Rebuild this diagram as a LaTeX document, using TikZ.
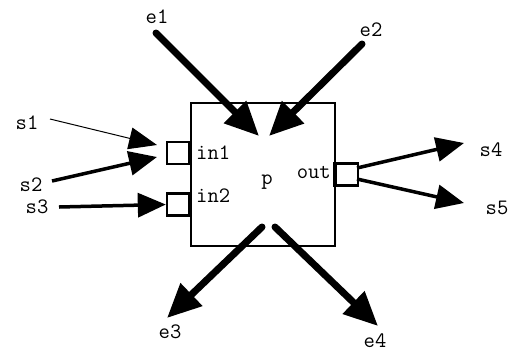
\documentclass[tikz,border=0pt]{standalone}
\usetikzlibrary{arrows.meta}
\begin{document}
\begin{tikzpicture}[x=1pt,y=-1pt,
  lbl/.style={inner sep=0pt,font=\ttfamily\fontsize{22}{22}\selectfont},
  port/.style={draw,line width=2.2pt,fill=white,minimum width=22pt,minimum height=22pt,inner sep=0pt},
  thin arrow/.style={line width=1pt,-{Triangle[length=28pt,width=22pt]}},
  mid arrow/.style={line width=3.5pt,-{Triangle[length=28pt,width=24pt]}},
  fat arrow/.style={line width=7pt,line cap=round,-{Triangle[length=34pt,width=30pt]}}]
\useasboundingbox (0,0) rectangle (508,354);
% process box
\node[draw,line width=2.5pt,minimum width=144pt,minimum height=143pt,inner sep=0pt] (p) at (263,174.5) {};
\node[lbl] (plbl) at (267,182) {p};
% ports
\node[port,anchor=east] (in1) at (190,153) {};
\node[port,anchor=east] (in2) at (190,204.5) {};
\node[port,anchor=west] (out) at (335,174.5) {};
\draw[line width=4.5pt] (out.north west) -- (out.south west);
\node[lbl,anchor=west] (in1lbl) at (196,153) {in1};
\node[lbl,anchor=west] (in2lbl) at (196,196) {in2};
\node[lbl,anchor=east] (outlbl) at (331,172) {out};
% signal labels
\node[lbl] (s1) at (27,123) {s1};
\node[lbl] (s2) at (31,185) {s2};
\node[lbl] (s3) at (37,207) {s3};
\node[lbl] (s4) at (491,150) {s4};
\node[lbl] (s5) at (497,208) {s5};
\node[lbl] (e1) at (157,17) {e1};
\node[lbl] (e2) at (371,30) {e2};
\node[lbl] (e3) at (170,332) {e3};
\node[lbl] (e4) at (375,341) {e4};
% connector ends
\coordinate (s1t) at (50,119);
\coordinate (s1h) at (157,145);
\coordinate (s2t) at (52,181);
\coordinate (s2h) at (157,157);
\coordinate (s3t) at (59,207);
\coordinate (s4t) at (357,168);
\coordinate (s4h) at (464,143);
\coordinate (s5t) at (357,179);
\coordinate (s5h) at (464,203);
\coordinate (e1t) at (156,33);
\coordinate (e1h) at (259,136);
\coordinate (e2t) at (362,44);
\coordinate (e2h) at (269,136);
\coordinate (e3t) at (262,227);
\coordinate (e3h) at (167,318);
\coordinate (e4t) at (275,227);
\coordinate (e4h) at (378,326);
% connectors
\draw[thin arrow] (s1t) -- (s1h);
\draw[mid arrow] (s2t) -- (s2h);
\draw[mid arrow] (s3t) -- (in2.west);
\draw[mid arrow] (s4t) -- (s4h);
\draw[mid arrow] (s5t) -- (s5h);
\draw[fat arrow] (e1t) -- (e1h);
\draw[fat arrow] (e2t) -- (e2h);
\draw[fat arrow] (e3t) -- (e3h);
\draw[fat arrow] (e4t) -- (e4h);
\end{tikzpicture}
\end{document}
